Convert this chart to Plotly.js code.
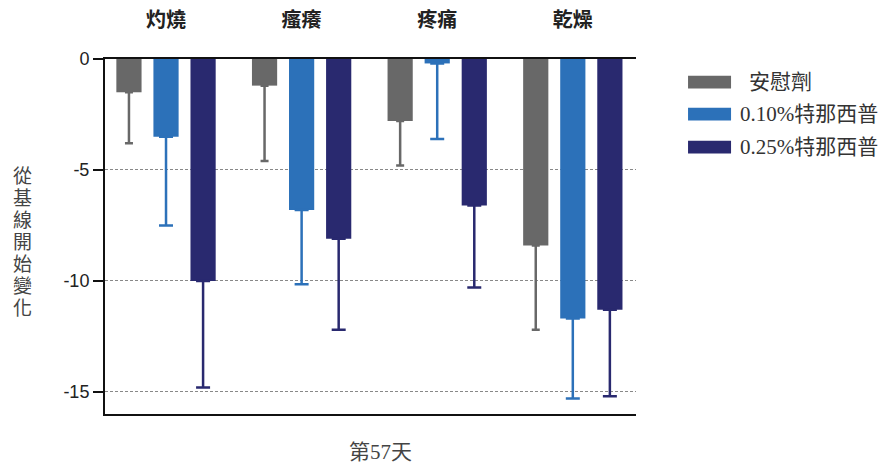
<!DOCTYPE html>
<html>
<head>
<meta charset="utf-8">
<script src="https://cdn.plot.ly/plotly-3.0.1.min.js"></script>
<style>html,body{margin:0;padding:0;background:#fff;}#chart{width:885px;height:465px;}</style>
</head>
<body>
<div id="chart"></div>
<script>
// ---- data ----
var categories = ['灼燒', '瘙癢', '疼痛', '乾燥'];
var seriesNames = ['安慰劑', '0.10%特那西普', '0.25%特那西普'];
var placeboVals = [-1.5, -1.2, -2.8, -8.4];
var placeboErr = [2.3, 3.4, 2.0, 3.8];
var lowVals = [-3.5, -6.8, -0.2, -11.7];
var lowErr = [4.0, 3.35, 3.4, 3.6];
var highVals = [-10.0, -8.1, -6.6, -11.3];
var highErr = [4.8, 4.1, 3.7, 3.9];
var yTicks = [0, -5, -10, -15];
var yTitleText = '從基線開始變化';
var xTitleText = '第57天';

// ---- styles ----
var colors = ['#686868', '#2C71B9', '#29296F'];
var capWidths = [4, 7, 7];
var vals = [placeboVals, lowVals, highVals];
var errs = [placeboErr, lowErr, highErr];

var traces = vals.map(function (v, i) {
  return {
    type: 'bar',
    name: seriesNames[i],
    x: categories,
    y: v,
    marker: {color: colors[i], line: {width: 0}},
    error_y: {
      type: 'data', symmetric: false,
      array: v.map(function () { return 0; }),
      arrayminus: errs[i],
      color: colors[i], thickness: 2.5, width: capWidths[i]
    },
    hoverinfo: 'skip'
  };
});

var shapes = [];
var annotations = [];
var legY = [0.935, 0.845, 0.752];
var legTextX = [1.209, 1.192, 1.192];
for (var i = 0; i < seriesNames.length; i++) {
  shapes.push({
    type: 'rect', xref: 'paper', yref: 'paper',
    x0: 1.098, x1: 1.179, y0: legY[i] - 0.018, y1: legY[i] + 0.018,
    fillcolor: colors[i], line: {width: 0}
  });
  annotations.push({
    xref: 'paper', yref: 'paper', x: legTextX[i], y: legY[i],
    xanchor: 'left', yanchor: 'middle', showarrow: false,
    text: seriesNames[i],
    font: {family: 'Liberation Serif, Noto Sans CJK TC', size: 21, color: '#333'}
  });
}
// vertical (stacked) y-axis title, one character per line
Array.from(yTitleText).forEach(function (c, k) {
  annotations.push({
    xref: 'paper', yref: 'paper', x: -0.156, y: 0.676 - k * 0.062,
    xanchor: 'center', yanchor: 'middle', showarrow: false,
    text: c,
    font: {family: 'Noto Sans CJK TC', size: 19, color: '#444'}
  });
});
annotations.push({
  xref: 'paper', yref: 'paper', x: 0.518, y: -0.107,
  xanchor: 'center', yanchor: 'middle', showarrow: false,
  text: xTitleText,
  font: {family: 'Liberation Serif, Noto Sans CJK TC', size: 21, color: '#444'}
});

var layout = {
  width: 885, height: 465,
  margin: {l: 105, r: 249, t: 59, b: 51},
  paper_bgcolor: '#fff', plot_bgcolor: '#fff',
  showlegend: false,
  barmode: 'group', bargap: 0.18, bargroupgap: 0.32,
  xaxis: {
    type: 'category', side: 'top', range: [-0.45, 3.466],
    showline: true, mirror: true, linecolor: '#111', linewidth: 2,
    ticks: '', showgrid: false, zeroline: false,
    ticklabelstandoff: 22,
    tickfont: {family: 'Noto Sans CJK TC', size: 20, color: '#222', weight: 'bold'}
  },
  yaxis: {
    range: [-16, 0], tickvals: yTicks, ticktext: yTicks.map(String),
    showline: true, linecolor: '#111', linewidth: 2,
    ticks: 'outside', ticklen: 10, tickwidth: 2, tickcolor: '#111',
    showgrid: true, gridcolor: '#888', gridwidth: 1, griddash: '3px,2px',
    zeroline: false,
    tickfont: {family: 'Liberation Sans, Arial', size: 18, color: '#222'}
  },
  shapes: shapes,
  annotations: annotations
};

Plotly.newPlot('chart', traces, layout, {displayModeBar: false, staticPlot: true});
</script>
</body>
</html>
